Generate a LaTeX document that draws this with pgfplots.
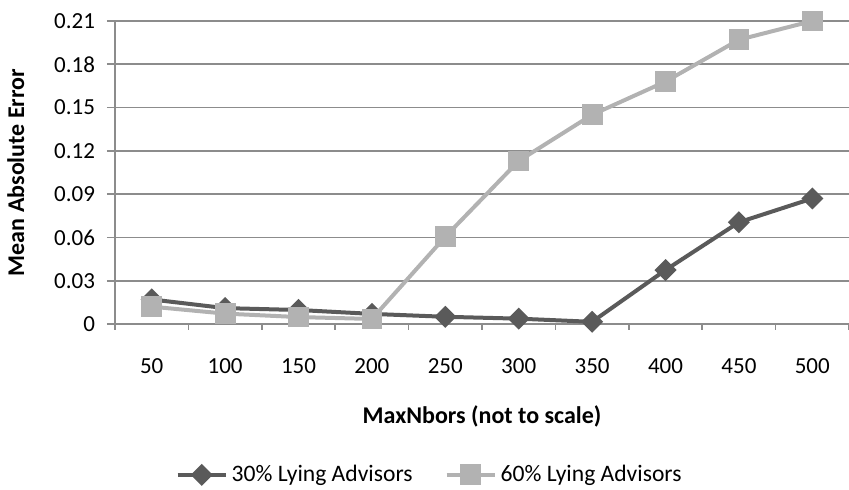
\documentclass[border=0pt]{standalone}
\usepackage{pgfplots}
\pgfplotsset{compat=1.18}
\usepackage{fontspec}
\setmainfont{Carlito}
\definecolor{darkser}{RGB}{90,90,90}
\definecolor{lightser}{RGB}{178,178,178}
\definecolor{gridc}{RGB}{140,140,140}
\begin{document}
\begin{tikzpicture}
\useasboundingbox (-57.5pt,-83pt) rectangle (367pt,162pt);
\begin{axis}[
  at={(0,0)}, anchor=south west,
  scale only axis,
  width=367pt, height=151.5pt,
  xmin=-0.5, xmax=9.5,
  ymin=0, ymax=0.21,
  xtick={0,...,9},
  xticklabels={50,100,150,200,250,300,350,400,450,500},
  major x tick style={draw=none},
  minor xtick={-0.5,0.5,...,9.5},
  ytick={0,0.03,...,0.211},
  yticklabels={0,0.03,0.06,0.09,0.12,0.15,0.18,0.21},
  tick align=outside,
  major tick length=4pt,
  minor tick length=3pt,
  axis x line*=bottom,
  axis y line*=left,
  axis line style={gridc, line width=0.8pt, -},
  tick style={gridc, line width=0.8pt},
  ymajorgrids,
  major grid style={gridc, line width=0.8pt},
  /pgf/number format/assume math mode=true,
  tick label style={font=\fontsize{11.5}{13}\selectfont, text=black},
  xticklabel style={yshift=-10pt},
  yticklabel style={xshift=-2.5pt},
  xlabel={\textbf{MaxNbors (not to scale)}},
  ylabel={\textbf{Mean Absolute Error}},
  label style={font=\fontsize{12}{14}\selectfont},
  xlabel style={yshift=-9pt},
  ylabel style={yshift=8pt},
  clip=false,
  legend columns=2,
  legend style={at={(axis description cs:0.43,-0.498)}, anchor=center, draw=none,
    font=\fontsize{11.8}{13}\selectfont,
    /tikz/every odd column/.append style={inner xsep=1pt},
    /tikz/every even column/.append style={column sep=14pt}},
  legend image code/.code={
    \draw[mark repeat=2,mark phase=2] plot coordinates {(0pt,0pt)(12pt,0pt)(24pt,0pt)};
  },
]
\addplot[darkser, line width=2pt, mark=square*, mark size=2.9pt, mark options={rotate=45, solid, fill=darkser}]
  coordinates {(0,0.017)(1,0.011)(2,0.0097)(3,0.007)(4,0.005)(5,0.0037)(6,0.0015)(7,0.0374)(8,0.0705)(9,0.087)};
\addlegendentry{30\% Lying Advisors}
\addplot[lightser, line width=2pt, mark=square*, mark size=4.2pt, mark options={solid, fill=lightser}]
  coordinates {(0,0.012)(1,0.0072)(2,0.0048)(3,0.0035)(4,0.0605)(5,0.113)(6,0.145)(7,0.168)(8,0.197)(9,0.21)};
\addlegendentry{60\% Lying Advisors}
\end{axis}
\end{tikzpicture}
\end{document}
